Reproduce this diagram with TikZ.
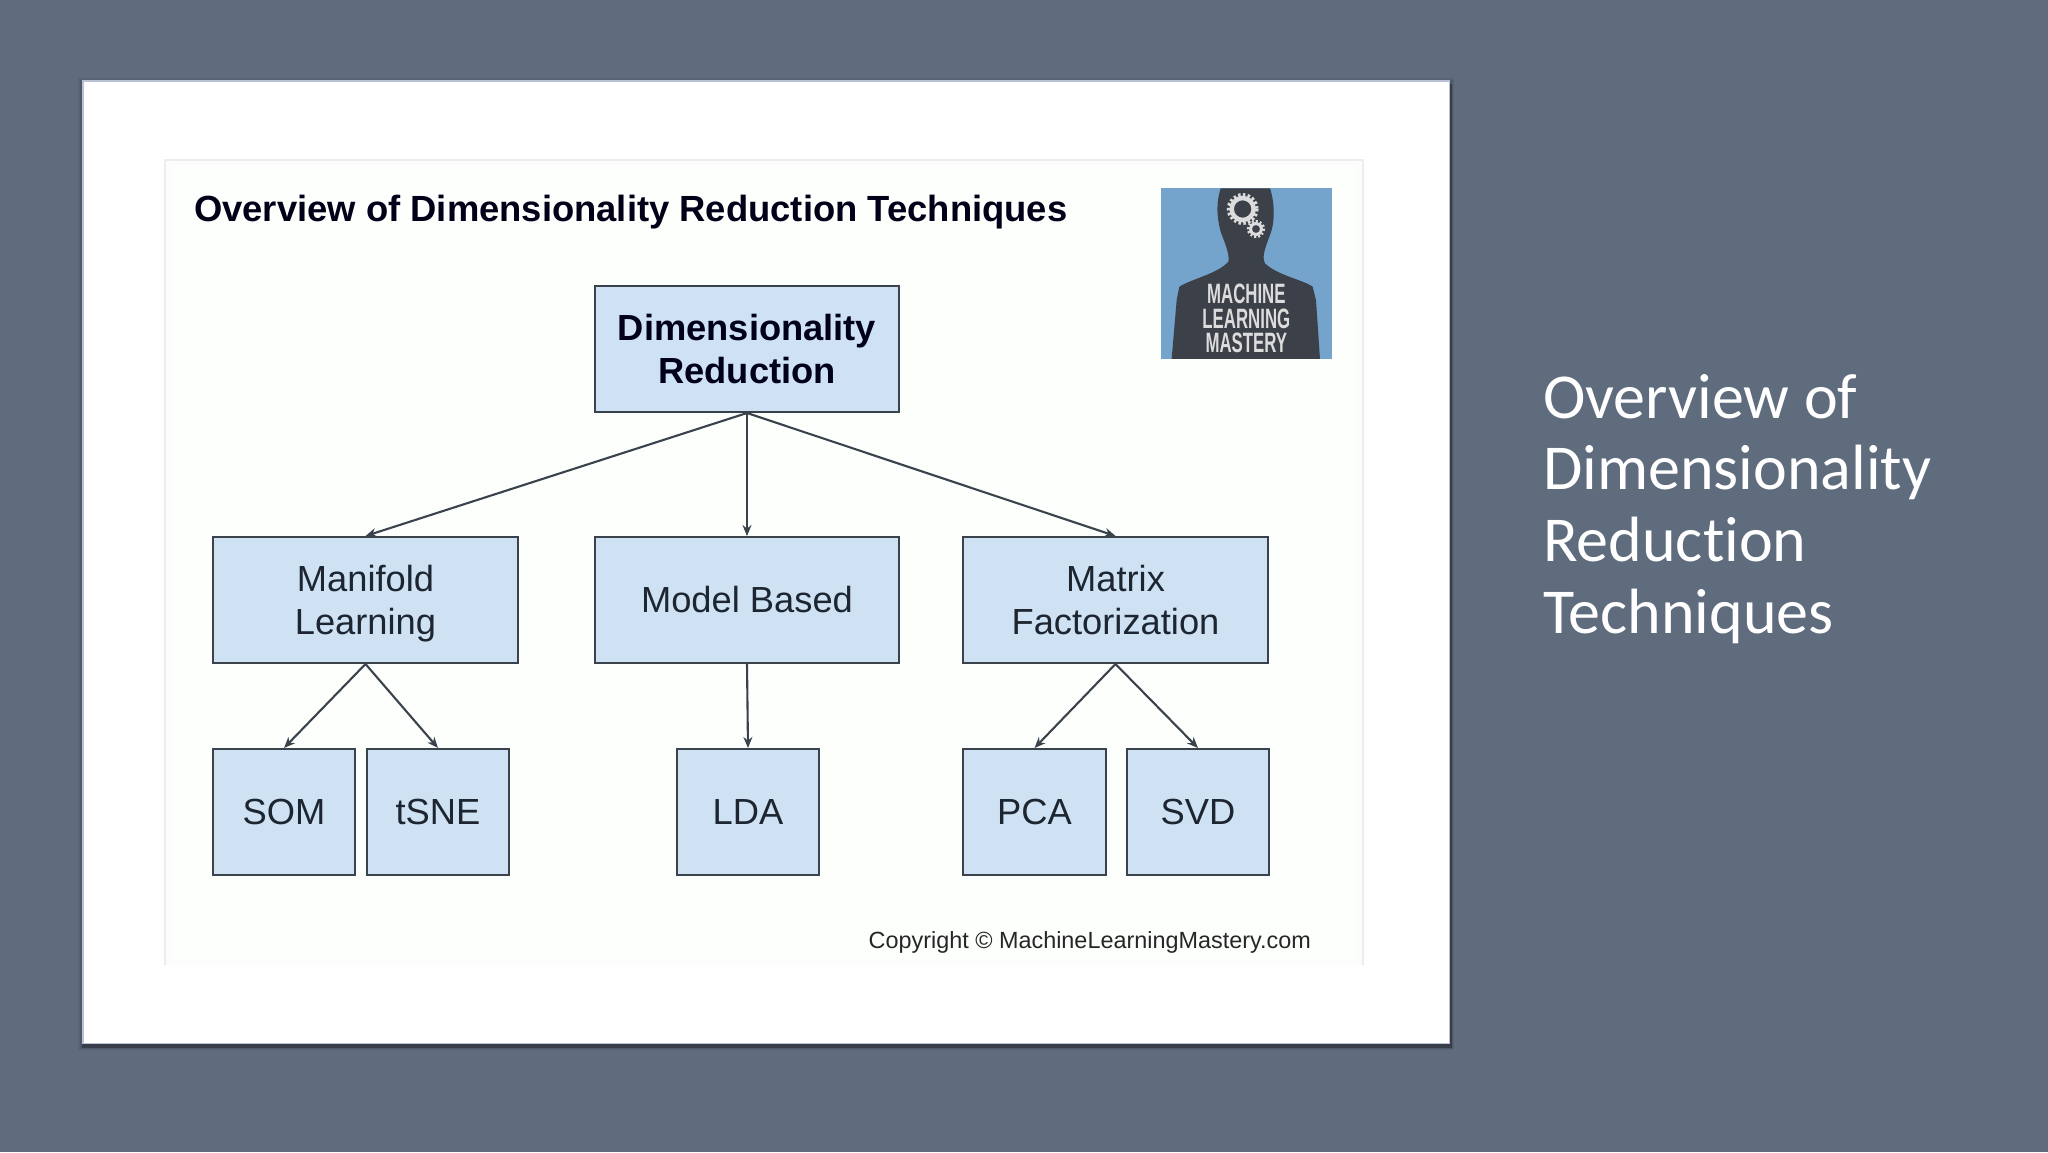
\documentclass[tikz,border=0pt]{standalone}
\usepackage{fontspec}
\setmainfont{Liberation Sans}
\newfontfamily\slidefont[Ligatures=NoCommon]{Carlito}
\newfontfamily\logofont[FakeStretch=0.6]{Liberation Sans}
\usetikzlibrary{arrows.meta}
\definecolor{slidebg}{HTML}{5F6C7D}
\definecolor{boxfill}{HTML}{CFE2F3}
\definecolor{boxline}{HTML}{3A434C}
\definecolor{inktext}{HTML}{1C2530}
\definecolor{logoblue}{HTML}{74A3CB}
\definecolor{logodark}{HTML}{3C4048}
\definecolor{logolight}{HTML}{DCDCDC}
\definecolor{cardedge}{HTML}{B9C2D4}
\tikzset{
  box/.style={draw=boxline,fill=boxfill,line width=2pt,inner sep=0pt,align=center,text=inktext,
    font=\fontsize{36.3}{43}\selectfont},
  widebox/.style={box,minimum width=304.5pt,minimum height=126pt},
  leafbox/.style={box,minimum width=142pt,minimum height=126pt},
  link/.style={draw=boxline,line width=2.1pt,-{Stealth[length=11pt,width=9pt]}},
  logotext/.style={inner sep=0pt,text=logolight,font=\logofont\bfseries\fontsize{28}{28}\selectfont},
  titletext/.style={inner sep=0pt,anchor=base west,text=white,font=\slidefont\fontsize{64}{72}\selectfont}
}
\begin{document}
\begin{tikzpicture}[x=1pt,y=-1pt]
\useasboundingbox (0,0) rectangle (2048,1152);
\fill[slidebg] (0,0) rectangle (2048,1152);
% card with shadow
\fill[black,opacity=.06] (78,78) rectangle (1454,1050);
\fill[black,opacity=.10] (80,80) rectangle (1453,1049);
\fill[black,opacity=.30] (82,84) rectangle (1452,1047.5);
\fill[cardedge] (82,80) rectangle (1449.5,1044);
\fill[white] (83.5,82) rectangle (1448.5,1042.5);
% inner picture frame
\fill[black!1] (165,160) rectangle (1363,965);
\fill[white!99!green] (172,165) rectangle (1356,960);
\draw[black!7,line width=1.5pt] (165,965) -- (165,160) -- (1363,160) -- (1363,965);
% title
\node[inner sep=0pt,anchor=west,text=black!90!blue,font=\bfseries\fontsize{36.4}{40}\selectfont] (title) at (194,212)
  {Overview of Dimensionality Reduction Techniques};
% logo
\fill[logoblue] (1161,188) rectangle (1332,359);
\begin{scope}[shift={(1130,160)},x=0.3333pt,y=-0.3333pt]
  \fill[logodark] (272,85) -- (420,85) .. controls (435,130) and (435,190) .. (420,225)
    .. controls (405,265) and (395,290) .. (405,310)
    .. controls (440,345) and (520,360) .. (548,380)
    -- (558,420) -- (570,597) -- (125,597) -- (140,420) -- (148,380)
    .. controls (190,355) and (265,340) .. (295,305)
    .. controls (300,285) and (285,250) .. (272,215)
    .. controls (260,170) and (258,130) .. (272,85) -- cycle;
  \draw[logolight,line width=4.5pt] (338,147) circle (33);
  \draw[logolight,line width=4.5pt,dash pattern=on 2.4pt off 2.2pt] (338,147) circle (41);
  \draw[logolight,line width=3pt] (378,207) circle (17);
  \draw[logolight,line width=3.5pt,dash pattern=on 1.8pt off 2pt] (378,207) circle (22);
  \node[logotext] (logoa) at (349,402) {MACHINE};
  \node[logotext] (logob) at (349,478) {LEARNING};
  \node[logotext] (logoc) at (349,548) {MASTERY};
\end{scope}
% nodes
\node[widebox,font=\bfseries\fontsize{36.3}{43}\selectfont,text=black!90!blue] (root) at (747,349) {Dimensionality\\Reduction};
\node[widebox] (manifold) at (365.5,600) {Manifold\\\raisebox{0pt}[\height][0pt]{Learning}};
\node[widebox] (model) at (747,600) {Model Based};
\node[widebox] (matrix) at (1115.5,600) {Matrix\\Factorization};
\node[leafbox] (som) at (284,812) {SOM};
\node[leafbox] (tsne) at (438,812) {tSNE};
\node[leafbox] (lda) at (748,812) {LDA};
\node[leafbox,minimum width=143pt] (pca) at (1034.5,812) {PCA};
\node[leafbox] (svd) at (1198,812) {SVD};
% connectors
\draw[link] (root.south) -- (manifold.north);
\draw[link] (root.south) -- (model.north);
\draw[link] (root.south) -- (matrix.north);
\draw[link] (manifold.south) -- (som.north);
\draw[link] (manifold.south) -- (tsne.north);
\draw[link] (model.south) -- (lda.north);
\draw[link] (matrix.south) -- (pca.north);
\draw[link] (matrix.south) -- (svd.north);
% copyright
\node[inner sep=0pt,anchor=east,text=black!85,font=\fontsize{23.4}{28}\selectfont] (copy) at (1311,942.5)
  {Copyright © MachineLearningMastery.com};
% slide title
\node[titletext] (ta) at (1543,418) {Overview of};
\node[titletext] (tb) at (1543,489.5) {Dimensionality};
\node[titletext] (tc) at (1543,561) {Reduction};
\node[titletext] (td) at (1543,633) {Techniques};
\end{tikzpicture}
\end{document}
